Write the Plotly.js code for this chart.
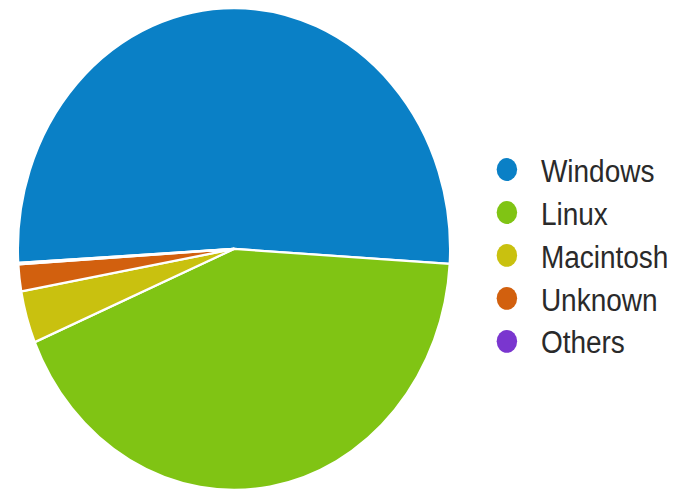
<!DOCTYPE html>
<html><head><meta charset="utf-8">
<script src="https://cdn.plot.ly/plotly-3.0.1.min.js"></script>
<style>
html,body{margin:0;padding:0;background:#fff;overflow:hidden}
#wrap{width:689px;height:493px;overflow:hidden}
#chart{width:689px;height:442px;transform:scaleY(1.1154);transform-origin:0 0}
</style></head><body><div id="wrap"><div id="chart"></div></div>
<script>
const categories = ['Windows', 'Linux', 'Macintosh', 'Unknown', 'Others'];
const shares = [51.9, 42.7, 3.5, 1.8, 0.1];
const colors = ['#0a80c6', '#80c414', '#c9c10f', '#d2600e', '#7a36cf'];

const pie = {
  type: 'pie',
  labels: categories,
  values: shares,
  sort: false,
  direction: 'clockwise',
  rotation: -93.3,
  textinfo: 'none',
  hoverinfo: 'label+percent',
  showlegend: false,
  marker: {colors: colors, line: {color: '#ffffff', width: 2}},
  domain: {x: [18 / 689, 450 / 689], y: [0.0063, 0.9837]}
};

const legendTraces = categories.map((c, i) => ({
  type: 'scatter', mode: 'markers', x: [null], y: [null], name: c,
  marker: {color: colors[i], size: 16, symbol: 'circle'},
  hoverinfo: 'skip', showlegend: true
}));

const layout = {
  width: 689, height: 442,
  margin: {l: 0, r: 0, t: 0, b: 0},
  paper_bgcolor: '#ffffff', plot_bgcolor: '#ffffff',
  xaxis: {visible: false}, yaxis: {visible: false},
  showlegend: true,
  legend: {
    x: 0.727, xanchor: 'left', y: 0.712, yanchor: 'top',
    font: {family: 'Liberation Sans, Arial, sans-serif', size: 28, color: '#2a2a2a'},
    bgcolor: 'rgba(0,0,0,0)'
  }
};

Plotly.newPlot('chart', [pie].concat(legendTraces), layout, {displayModeBar: false, staticPlot: true}).then(() => {
  document.querySelectorAll('#chart .legend [clip-path]').forEach(e => e.removeAttribute('clip-path'));
  const items = document.querySelectorAll('#chart .legend .traces');
  let y0 = null;
  items.forEach((g, i) => {
    const m = /translate\(([-\d.]+),\s*([-\d.]+)\)/.exec(g.getAttribute('transform') || '');
    if (!m) return;
    const x = parseFloat(m[1]);
    if (y0 === null) y0 = parseFloat(m[2]);
    g.setAttribute('transform', 'translate(' + x + ',' + (y0 + i * 38.5) + ')');
    g.querySelectorAll('.legendpoints path').forEach(p => p.setAttribute('transform', 'translate(6,0) scale(1.28)'));
  });
});
</script></body></html>
